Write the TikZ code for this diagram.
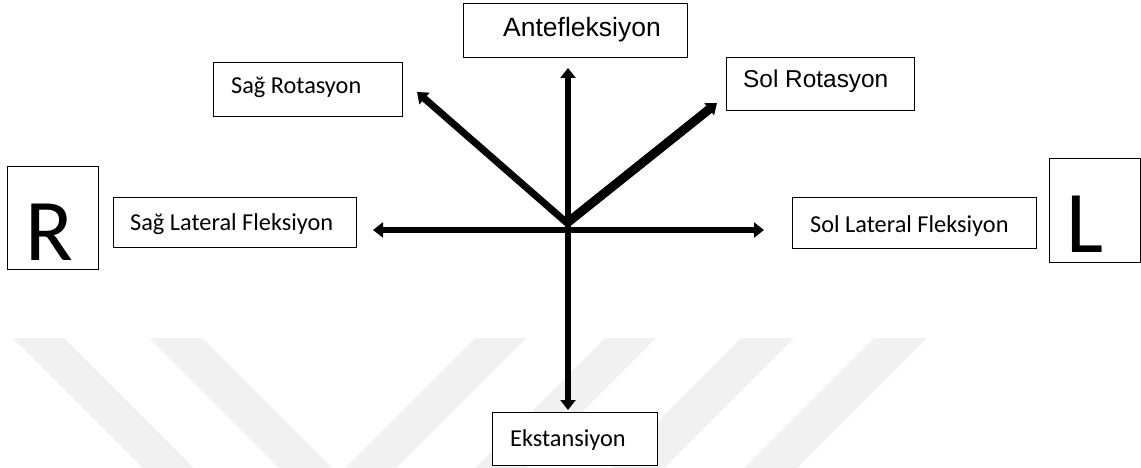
\documentclass[tikz,border=0pt]{standalone}
\usepackage{fontspec}
\setmainfont{Carlito}
\newfontfamily\arialfont{Liberation Sans}
\usetikzlibrary{arrows.meta}
\definecolor{wmark}{HTML}{F1F1F1}
\begin{document}
\begin{tikzpicture}[x=1pt, y=-1pt,
  box/.style={draw=black, line width=1.3pt, fill=white, inner sep=0pt, anchor=north west},
  lbl/.style={inner sep=0pt, anchor=base west, font=\fontsize{24.3}{28}\selectfont},
  albl/.style={inner sep=0pt, anchor=base west, font=\arialfont\fontsize{#1}{30}\selectfont},
  side/.style={inner sep=0pt, anchor=base west, font=\fontsize{88}{100}\selectfont},
  arr/.style={line width=6.5pt, -{Triangle[length=10pt,width=15pt]}},
  darr/.style={line width=6.5pt, {Triangle[length=10pt,width=15pt]}-{Triangle[length=10pt,width=15pt]}}
]
\useasboundingbox (0,0) rectangle (1141,468);

% faint background bands
\fill[wmark] (13,338) -- (64,338) -- (194,468) -- (143,468) -- cycle;
\fill[wmark] (149,338) -- (202,338) -- (332,468) -- (279,468) -- cycle;
\fill[wmark] (475,338) -- (526,338) -- (396,468) -- (345,468) -- cycle;
\fill[wmark] (605,338) -- (656,338) -- (526,468) -- (475,468) -- cycle;
\fill[wmark] (741,338) -- (794,338) -- (664,468) -- (611,468) -- cycle;
\fill[wmark] (874,338) -- (927,338) -- (797,468) -- (744,468) -- cycle;

% side markers
\node[box, minimum width=91, minimum height=103] (rbox) at (7,166) {};
\node[side] (rtxt) at (25,260) {R};
\node[box, minimum width=91, minimum height=104] (lbox) at (1049,158) {};
\node[side] (ltxt) at (1066,252) {L};

% movement labels
\node[box, minimum width=224, minimum height=54] (ante) at (463,3) {};
\node[albl=26.5] (antet) at (503,37) {Antefleksiyon};
\node[box, minimum width=188, minimum height=53] (solrot) at (726,57) {};
\node[albl=24.4] (solrott) at (743,88) {Sol Rotasyon};
\node[box, minimum width=189, minimum height=54] (sagrot) at (213,62) {};
\node[lbl] (sagrott) at (231,94) {Sağ Rotasyon};
\node[box, minimum width=243, minimum height=50] (saglat) at (113,197) {};
\node[lbl] (saglatt) at (130,230) {Sağ Lateral Fleksiyon};
\node[box, minimum width=244, minimum height=51] (sollat) at (792,197) {};
\node[lbl] (sollatt) at (810,232) {Sol Lateral Fleksiyon};
\node[box, minimum width=165, minimum height=53] (eks) at (492,412) {};
\node[lbl] (ekst) at (510,446) {Ekstansiyon};

% axis end points
\coordinate (apex) at (567,223);
\coordinate (tipN) at (568,68);
\coordinate (tipS) at (568,410);
\coordinate (tipW) at (373,230);
\coordinate (tipE) at (764,230);
\coordinate (tipNW) at (417,92);
\coordinate (tipNE) at (717,103);

% arrows
\draw[darr] (tipN) -- (tipS);
\draw[darr] (tipW) -- (tipE);
\draw[arr, line width=7pt] (apex) -- (tipNW);
\draw[arr, line width=9pt] (apex) -- (tipNE);
\end{tikzpicture}
\end{document}
